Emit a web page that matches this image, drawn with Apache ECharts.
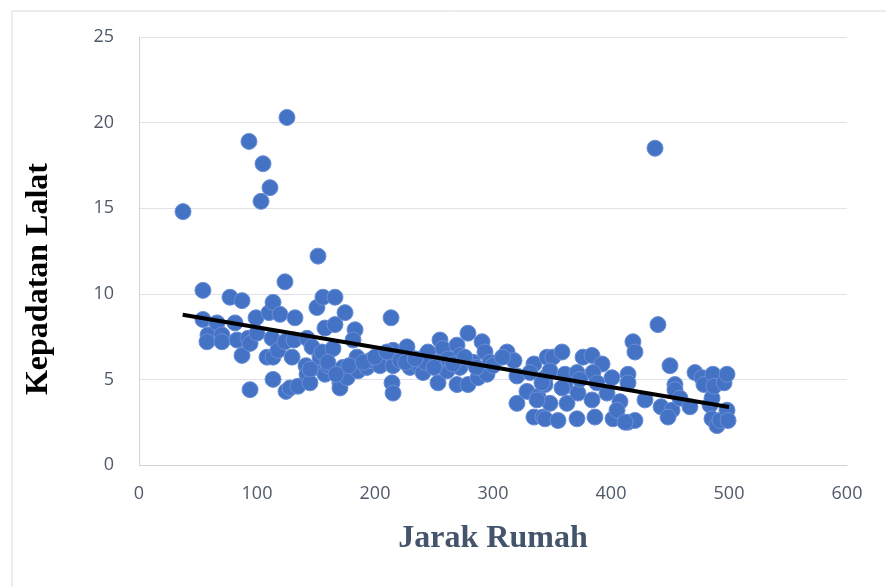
<!DOCTYPE html>
<html>
<head>
<meta charset="utf-8">
<script src="https://cdn.jsdelivr.net/npm/echarts@6/dist/echarts.min.js"></script>
<style>html,body{margin:0;padding:0;background:#fff}#c{width:886px;height:586px}</style>
</head>
<body>
<div id="c"></div>
<script>
const xTitle = 'Jarak Rumah';
const yTitle = 'Kepadatan Lalat';
const xTicks = [0, 100, 200, 300, 400, 500, 600];
const yTicks = [0, 5, 10, 15, 20, 25];
const jarak = [37.3,54.2,54.2,58.5,57.6,66.1,70.3,70.3,77.1,81.4,83.1,87.3,87.3,93.2,92.4,94.1,94.1,99.2,100.0,103.4,105.1,108.5,110.2,111.0,112.7,113.6,113.6,113.6,117.8,119.5,123.7,123.7,125.4,124.6,129.7,131.4,132.2,128.0,134.7,142.4,141.5,142.4,144.9,146.6,150.8,151.7,150.8,153.4,155.1,155.9,157.6,157.6,160.2,166.1,166.1,164.4,170.3,170.3,172.9,174.6,176.3,183.1,181.4,184.7,185.6,193.2,195.8,204.2,204.2,213.6,215.3,215.3,214.4,215.3,221.2,227.1,229.7,238.1,240.7,244.1,249.2,255.1,257.6,253.4,261.0,269.5,272.0,272.0,269.5,278.8,278.8,283.1,287.3,290.7,293.2,294.9,297.5,244.9,242.4,252.5,311.9,317.8,320.3,334.7,331.4,344.1,328.8,338.1,320.3,334.7,342.4,345.8,350.8,358.5,348.3,344.1,348.3,344.1,355.1,361.0,361.0,362.7,371.2,372.0,371.2,376.3,383.9,392.4,384.7,388.1,383.9,396.6,386.4,400.8,401.7,407.6,405.1,414.4,414.4,418.6,420.3,414.4,420.3,411.9,428.8,437.3,439.8,442.4,450.0,451.7,448.3,454.2,454.2,458.5,466.9,471.2,477.1,478.8,483.9,485.6,486.4,487.3,485.6,489.8,492.4,495.8,498.3,498.3,499.2,337.3,358.5,341.5,373.7,145,160,167,178,190,200,210,226,234,250,262,266,276,286,300,308];
const kepadatan = [14.8,10.2,8.5,7.6,7.2,8.3,7.6,7.2,9.8,8.3,7.3,9.6,6.4,18.9,7.4,7.1,4.4,8.6,7.7,15.4,17.6,6.3,8.9,16.2,7.4,9.5,6.3,5.0,6.7,8.8,10.7,7.2,20.3,4.3,6.3,7.3,8.6,4.5,4.6,7.4,5.8,5.3,4.8,6.9,9.2,12.2,5.7,6.3,6.6,9.8,8.0,5.3,5.8,9.8,8.2,6.8,4.8,4.5,5.7,8.9,5.1,7.9,7.3,6.3,5.5,5.7,6.1,6.4,5.8,8.6,6.7,5.8,4.8,4.2,6.1,6.9,5.7,5.7,5.4,6.5,6.0,7.3,6.8,4.8,5.5,7.0,6.4,5.7,4.7,7.7,4.7,6.0,5.1,7.2,6.6,5.3,6.0,6.6,6.0,6.0,6.6,6.1,5.2,5.9,5.4,5.1,4.3,4.0,3.6,2.8,2.8,6.3,6.3,6.6,5.5,4.7,3.6,2.7,2.6,5.3,4.6,3.6,5.4,4.2,2.7,6.3,6.4,5.9,5.4,4.8,3.8,4.2,2.8,5.1,2.7,3.7,3.2,5.3,4.8,7.2,6.6,2.5,2.6,2.5,3.8,18.5,8.2,3.4,5.8,3.2,2.8,4.7,4.4,3.9,3.4,5.4,5.1,4.7,3.5,3.9,5.3,4.6,2.7,2.3,2.6,4.8,5.3,3.2,2.6,3.8,4.5,4.8,5.0,5.6,6.0,5.3,5.8,6.0,6.3,6.6,6.0,6.2,5.7,6.2,5.9,6.3,5.7,5.8,6.3];
const trendX = [37, 500];
const trendY = [8.78, 3.39];

const points = jarak.map((x, i) => [x, kepadatan[i]]);
const trend = trendX.map((x, i) => [x, trendY[i]]);

const chart = echarts.init(document.getElementById('c'), null, {renderer: 'canvas'});
chart.setOption({
  animation: false,
  backgroundColor: '#ffffff',
  graphic: [{
    type: 'rect', shape: {x: 12, y: 11, width: 880, height: 590},
    style: {fill: 'none', stroke: '#d9d9d9', lineWidth: 1}, z: -1, silent: true
  }],
  grid: {left: 139, right: 39, top: 37, bottom: 121},
  xAxis: {
    type: 'value', min: xTicks[0], max: xTicks[xTicks.length - 1], interval: 100,
    name: xTitle, nameLocation: 'middle', nameGap: 58,
    nameTextStyle: {fontFamily: 'Liberation Serif', fontWeight: 'bold', fontSize: 32, color: '#44546a'},
    axisLine: {show: true, lineStyle: {color: '#d0d4da', width: 1}},
    axisTick: {show: false},
    splitLine: {show: false},
    axisLabel: {margin: 20, fontFamily: 'Open Sans', fontSize: 18, color: '#4f5968'}
  },
  yAxis: {
    type: 'value', min: yTicks[0], max: yTicks[yTicks.length - 1], interval: 5,
    name: yTitle, nameLocation: 'middle', nameGap: 84, nameRotate: 90,
    nameTextStyle: {fontFamily: 'Liberation Serif', fontWeight: 'bold', fontSize: 32, color: '#000000', padding: [0, 56, 0, 0]},
    axisLine: {show: true, lineStyle: {color: '#d0d4da', width: 1}},
    axisTick: {show: false},
    splitLine: {show: true, lineStyle: {color: '#dfe2e6', width: 1}},
    axisLabel: {margin: 25, fontFamily: 'Open Sans', fontSize: 18, color: '#4f5968'}
  },
  series: [{
    type: 'scatter', data: points, symbolSize: 16,
    itemStyle: {color: '#4472c4', borderColor: '#6a8fd6', borderWidth: 1, opacity: 1},
    z: 2
  }, {
    type: 'line', data: trend, symbol: 'none',
    lineStyle: {color: '#000000', width: 4},
    z: 3
  }]
});
</script>
</body>
</html>
